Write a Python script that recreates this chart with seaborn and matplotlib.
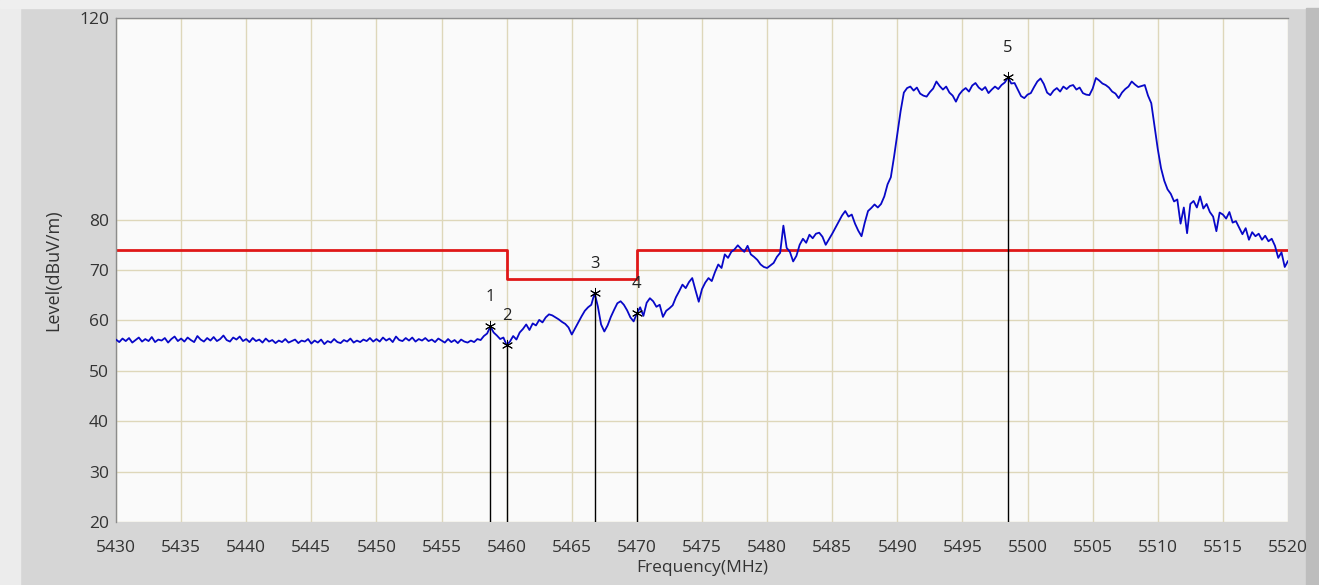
import numpy as np
import pandas as pd
import matplotlib
matplotlib.use('Agg')
import matplotlib.pyplot as plt
import seaborn as sns
from matplotlib.patches import Rectangle

# sweep: 5430 MHz to 5520 MHz, one reading every 0.25 MHz
freq_start = 5430.0
freq_step = 0.25

# level readings (dBuV/m), one row per 5 MHz
level = [
    56.2, 55.7, 56.4, 55.9, 56.5, 55.6, 56.1, 56.6, 55.8, 56.3, 55.9, 56.7, 55.7, 56.2, 56.0, 56.5, 55.6, 56.3, 56.8, 55.9,
    56.4, 55.8, 56.6, 56.1, 55.7, 56.9, 56.2, 55.8, 56.5, 56.0, 56.7, 55.9, 56.3, 57.0, 56.1, 55.8, 56.6, 56.2, 56.8, 55.9,
    56.3, 55.7, 56.5, 55.9, 56.2, 55.6, 56.4, 55.8, 56.1, 55.5, 56.0, 55.7, 56.3, 55.6, 55.9, 56.2, 55.5, 56.0, 55.8, 56.3,
    55.4, 56.0, 55.6, 56.2, 55.3, 55.9, 55.6, 56.3, 55.7, 55.5, 56.1, 55.8, 56.4, 55.6, 56.0, 55.7, 56.2, 55.9, 56.5, 55.8,
    56.3, 55.8, 56.6, 56.0, 56.4, 55.7, 56.8, 56.1, 55.9, 56.5, 56.0, 56.6, 55.8, 56.3, 56.0, 56.5, 55.9, 56.2, 55.7, 56.4,
    56.0, 55.6, 56.3, 55.7, 56.1, 55.5, 56.2, 55.8, 55.6, 56.0, 55.7, 56.3, 56.1, 56.9, 57.4, 58.8, 57.6, 57.0, 56.3, 56.6,
    55.1, 55.8, 56.9, 56.2, 57.6, 58.3, 59.2, 58.1, 59.4, 59.0, 60.1, 59.6, 60.6, 61.2, 61.0, 60.6, 60.2, 59.7, 59.3, 58.6,
    57.2, 58.4, 59.6, 60.8, 61.9, 62.6, 63.1, 65.4, 62.8, 59.2, 57.8, 59.0, 60.7, 62.1, 63.4, 63.8, 63.1, 62.0, 60.6, 59.8,
    61.4, 62.6, 60.9, 63.5, 64.4, 63.8, 62.7, 63.1, 60.7, 61.9, 62.4, 63.0, 64.6, 65.8, 67.1, 66.4, 67.6, 68.4, 66.0, 63.7,
    66.2, 67.5, 68.4, 67.8, 69.6, 71.1, 70.4, 73.1, 72.4, 73.6, 74.1, 74.9, 74.2, 73.6, 74.8, 73.1, 72.6, 72.0, 71.1, 70.6,
    70.4, 70.9, 71.4, 72.6, 73.4, 78.8, 74.4, 73.6, 71.7, 72.8, 75.0, 76.2, 75.4, 77.0, 76.3, 77.2, 77.4, 76.6, 75.0, 76.1,
    77.2, 78.4, 79.6, 80.8, 81.7, 80.6, 81.0, 79.2, 77.8, 76.7, 79.4, 81.7, 82.3, 83.0, 82.4, 83.1, 84.6, 87.0, 88.4, 92.5,
    97.0, 101.5, 105.2, 106.1, 106.4, 105.6, 106.2, 105.0, 104.6, 104.4, 105.3, 106.0, 107.4, 106.5, 105.8, 106.4, 105.2, 104.6, 103.4, 104.8,
    105.6, 106.1, 105.4, 106.6, 107.1, 106.2, 105.7, 106.3, 105.1, 105.8, 106.4, 105.9, 106.7, 107.2, 108.2, 107.0, 107.1, 105.8, 104.5, 104.1,
    104.8, 105.1, 106.3, 107.4, 108.0, 106.9, 105.2, 104.7, 105.6, 106.1, 105.4, 106.4, 105.9, 106.5, 106.7, 105.8, 106.2, 105.1, 104.8, 104.7,
    106.0, 108.1, 107.6, 107.0, 106.7, 106.2, 105.4, 105.0, 104.1, 105.2, 105.9, 106.4, 107.4, 106.8, 106.3, 106.5, 106.7, 104.6, 103.1, 98.6,
    94.0, 90.2, 87.7, 86.0, 85.1, 83.6, 84.0, 79.2, 82.4, 77.3, 83.1, 83.7, 82.4, 84.6, 82.2, 83.1, 81.5, 80.6, 77.7, 81.4,
    81.0, 80.2, 81.5, 79.4, 79.7, 78.4, 77.1, 78.3, 76.0, 77.5, 76.7, 77.2, 76.0, 76.8, 75.7, 76.2, 74.8, 72.4, 73.5, 70.6,
    71.8,
]

# limit line (step)
limit_freq = [5430, 5460, 5460, 5470, 5470, 5520]
limit_level = [74.0, 74.0, 68.2, 68.2, 74.0, 74.0]

# markers
marker_labels = ['1', '2', '3', '4', '5']
marker_freq = [5458.75, 5460.0, 5466.75, 5470.0, 5498.5]
marker_level = [58.8, 55.1, 65.4, 61.4, 108.2]

x_ticks = list(range(5430, 5521, 5))
y_ticks = [20, 30, 40, 50, 60, 70, 80, 120]

freq = freq_start + freq_step * np.arange(len(level))
df = pd.DataFrame({'freq': freq, 'level': level})

sns.set_style('whitegrid')
plt.rcParams['font.family'] = ['Open Sans', 'DejaVu Sans']

fig = plt.figure(figsize=(13.19, 5.85), dpi=100, facecolor='#d6d6d6')
# window frame strips
fig.patches.append(Rectangle((0, 0), 20 / 1319, 1, transform=fig.transFigure,
                             color='#ececec', zorder=-1))
fig.patches.append(Rectangle((0, 1 - 8 / 585), 1, 8 / 585, transform=fig.transFigure,
                             color='#efefef', zorder=-1))
fig.patches.append(Rectangle((1306 / 1319, 0), 13 / 1319, 1 - 8 / 585, transform=fig.transFigure,
                             color='#bdbdbd', zorder=-1))

ax = fig.add_axes([116 / 1319, 63 / 585, 1172 / 1319, 504 / 585])
ax.set_facecolor('#fafafa')

ax.plot(limit_freq, limit_level, color='#e01818', lw=2.0, zorder=2)
sns.lineplot(data=df, x='freq', y='level', ax=ax, color='#0808c8', lw=1.3,
             estimator=None, sort=False, zorder=3)
ax.vlines(marker_freq, 20, marker_level, color='black', lw=1.0, zorder=4)
ax.scatter(marker_freq, marker_level, marker=(6, 2, 0), s=55, color='black',
           linewidths=0.7, zorder=5)
for lab, fx, fy in zip(marker_labels, marker_freq, marker_level):
    ax.annotate(lab, (fx, fy), xytext=(0, 21), textcoords='offset points',
                ha='center', va='center', fontsize=12, color='#222222', zorder=6)

ax.set_xlim(5430, 5520)
ax.set_ylim(20, 120)
ax.set_xticks(x_ticks)
ax.set_yticks(y_ticks)
ax.grid(True, color='#ded7ba', lw=1.0)
ax.tick_params(axis='both', length=0, labelsize=12.5, labelcolor='#333333')
ax.tick_params(axis='x', pad=13)
ax.tick_params(axis='y', pad=5)

ax.set_xlabel('Frequency(MHz)', fontsize=12.5, color='#333333', labelpad=3)
ax.set_ylabel('Level(dBuV/m)', fontsize=13, color='#333333')
ax.yaxis.set_label_coords(-0.046, 0.5)

for side in ['right', 'bottom']:
    ax.spines[side].set_visible(False)
for side in ['left', 'top']:
    ax.spines[side].set_color('#8c8c8c')
    ax.spines[side].set_linewidth(1.0)

fig.savefig('out.png', dpi=100, facecolor=fig.get_facecolor())
